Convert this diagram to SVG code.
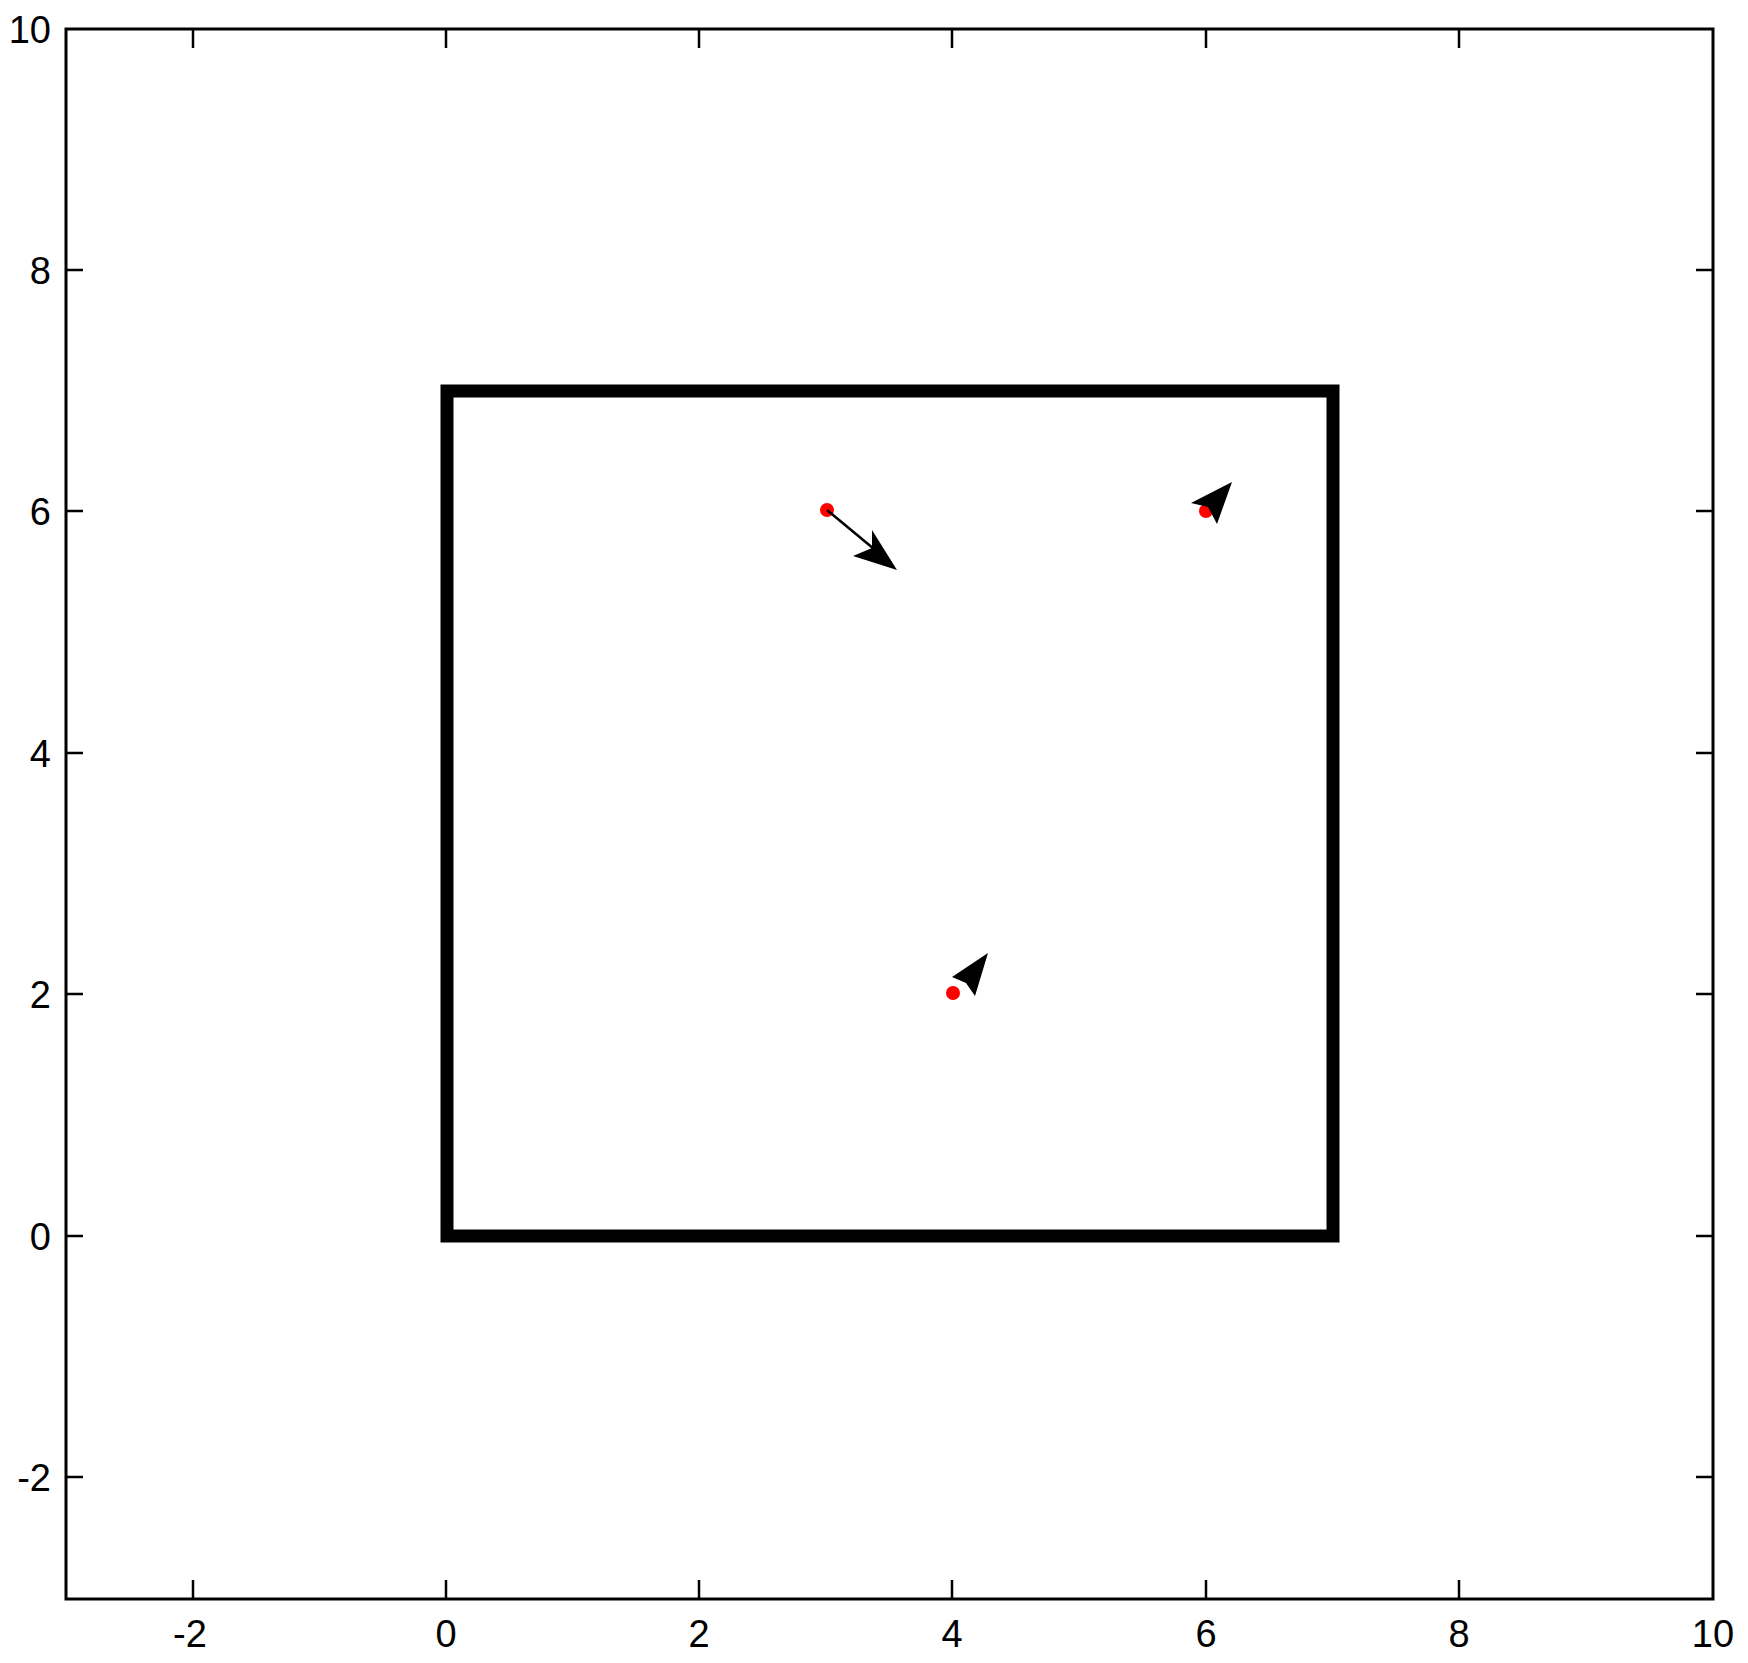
<svg xmlns="http://www.w3.org/2000/svg" width="1748" height="1663" viewBox="0 0 1748 1663">
<style>
.ax{fill:none;stroke:#000;stroke-width:3}
.tk{stroke:#000;stroke-width:2.5}
.lb{font-family:"Liberation Sans",Arial,sans-serif;font-size:38px;fill:#000}
.xl{text-anchor:middle}
.yl{text-anchor:end}
.sq{fill:none;stroke:#000;stroke-width:13;stroke-linejoin:miter}
.dot{fill:#ff0000}
.shaft{stroke:#000;stroke-width:2.5}
.head{fill:#000}
</style>
<rect width="1748" height="1663" fill="#fff"/>
<g id="axes">
<rect class="ax" x="66" y="29" width="1647" height="1570"/>
<g id="ticks">
<path class="tk" d="M193,1599v-19M446,1599v-19M699,1599v-19M952,1599v-19M1206,1599v-19M1459,1599v-19
M193,29v19M446,29v19M699,29v19M952,29v19M1206,29v19M1459,29v19
M66,1477h17M66,1236h17M66,994h17M66,753h17M66,511h17M66,270h17
M1713,1477h-17M1713,1236h-17M1713,994h-17M1713,753h-17M1713,511h-17M1713,270h-17"/>
</g>
<g id="xlabels" class="lb xl">
<text x="190" y="1647">-2</text>
<text x="446" y="1647">0</text>
<text x="699" y="1647">2</text>
<text x="952" y="1647">4</text>
<text x="1206" y="1647">6</text>
<text x="1459" y="1647">8</text>
<text x="1713" y="1647">10</text>
</g>
<g id="ylabels" class="lb yl">
<text x="51" y="1491">-2</text>
<text x="51" y="1250">0</text>
<text x="51" y="1008">2</text>
<text x="51" y="767">4</text>
<text x="51" y="525">6</text>
<text x="51" y="284">8</text>
<text x="51" y="43">10</text>
</g>
</g>
<g id="square">
<rect class="sq" x="447" y="391" width="886" height="845"/>
</g>
<g id="points">
<circle class="dot" cx="827" cy="510" r="7"/>
<circle class="dot" cx="1206" cy="511" r="7"/>
<circle class="dot" cx="953" cy="993" r="7"/>
</g>
<g id="connectors">
<line class="shaft" x1="827" y1="510" x2="874" y2="549"/>
<polygon class="head" points="897,570 872,530 872,548 853,556"/>
<polygon class="head" points="1232,482 1191,503 1208,507 1217,524"/>
<polygon class="head" points="988,953 952,977 966,983 975,996"/>
</g>
</svg>
